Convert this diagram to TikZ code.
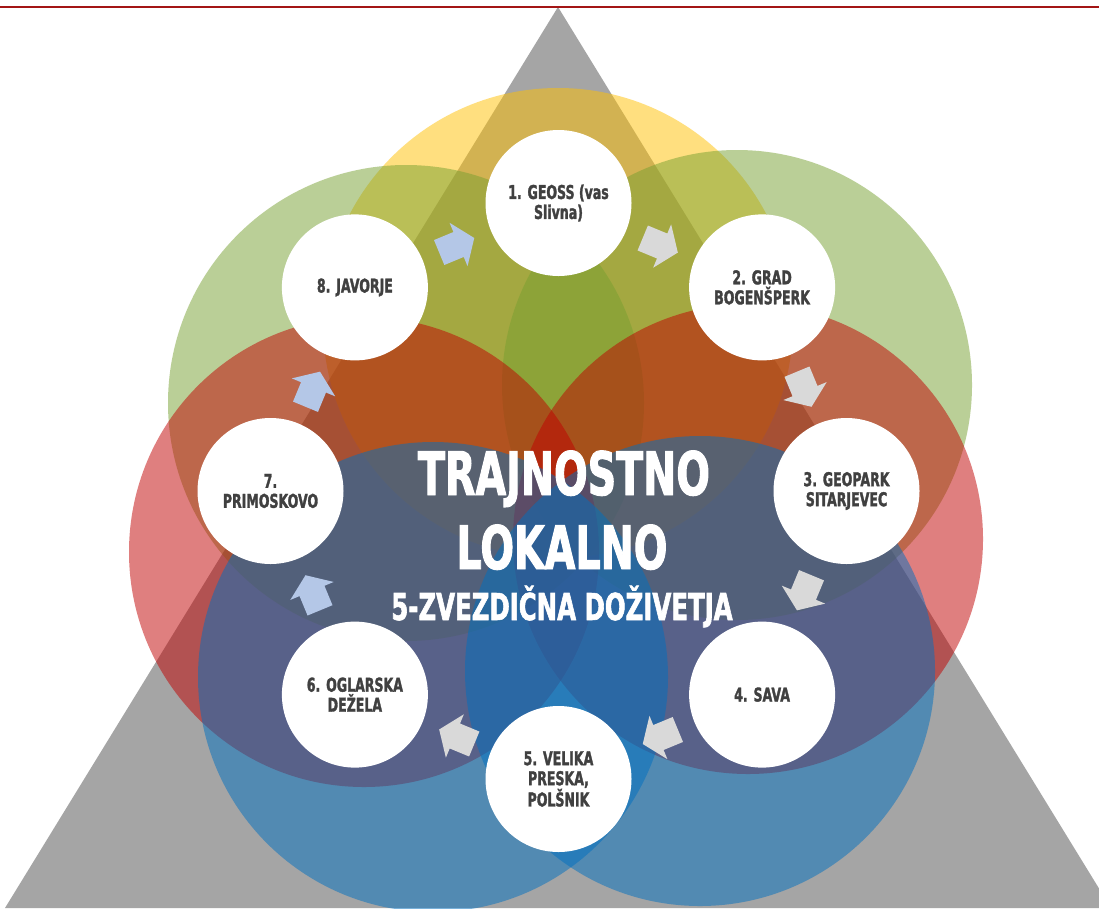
\documentclass[tikz,border=0pt]{standalone}
\usepackage{fontspec}
\usetikzlibrary{calc}
\newfontfamily\condfont{DejaVu Sans}[FakeStretch=0.66, BoldFeatures={FakeBold=1.6}]
\definecolor{cyel}{HTML}{FFC000}
\definecolor{cgrn}{HTML}{77A031}
\definecolor{cred}{HTML}{C00000}
\definecolor{cblu}{HTML}{0070C0}
\definecolor{trigray}{HTML}{A5A5A5}
\definecolor{txtg}{HTML}{404040}
\definecolor{arrg}{HTML}{D9D9D9}
\definecolor{arrb}{HTML}{B4C7E7}
\definecolor{topred}{HTML}{A31515}
\begin{document}
\begin{tikzpicture}[x=1pt,y=-1pt,
  venn/.style={fill opacity=0.5},
  spot/.style={circle, fill=white, minimum size=146pt, inner sep=0pt, text=txtg, align=center,
    font=\condfont\bfseries\fontsize{19}{20}\selectfont},
  bigtext/.style={text=white, anchor=base, inner sep=0pt, font=\condfont\bfseries\fontsize{60}{60}\selectfont},
  subtext/.style={text=white, anchor=base, inner sep=0pt, font=\condfont\bfseries\fontsize{37}{37}\selectfont},
  cycarrow/.style={draw=none}]
\clip (0,0) rectangle (1099,908);
\fill[white] (0,0) rectangle (1099,908);
% background triangle
\fill[trigray] (558,7) -- (5,908) -- (1111,908) -- cycle;
\draw[topred, line width=1.6pt] (0,7) -- (1099,7);
% overlapping circles
\fill[venn, cyel] (558,323) circle[radius=235];
\fill[venn, cgrn] (406,403) circle[radius=238];
\fill[venn, cgrn] (737,385) circle[radius=235];
\fill[venn, cred] (364,552) circle[radius=235];
\fill[venn, cred] (748,539) circle[radius=235];
\fill[venn, cblu] (433,677) circle[radius=235];
\fill[venn, cblu] (700,671) circle[radius=235];
% stations
\coordinate (C) at (558.5,491);
\node[spot] (n1) at ($(C)+(0,-288)$) {1. GEOSS (vas\\Slivna)};
\node[spot] (n2) at ($(C)+(203.6,-203.6)$) {2. GRAD\\BOGENŠPERK};
\node[spot] (n3) at ($(C)+(288,0)$) {3. GEOPARK\\SITARJEVEC};
\node[spot] (n4) at ($(C)+(203.6,203.6)$) {4. SAVA};
\node[spot] (n5) at ($(C)+(0,288)$) {5. VELIKA\\PRESKA,\\POLŠNIK};
\node[spot] (n6) at ($(C)+(-203.6,203.6)$) {6. OGLARSKA\\DEŽELA};
\node[spot] (n7) at ($(C)+(-288,0)$) {7.\\PRIMOSKOVO};
\node[spot] (n8) at ($(C)+(-203.6,-203.6)$) {8. JAVORJE};
% cycle arrows
\foreach \t/\c in {67.5/arrg, 22.5/arrg, -22.5/arrg, -67.5/arrg, -112.5/arrg, -157.5/arrb, 157.5/arrb, 112.5/arrb} {
  \fill[cycarrow, \c, shift={($(C)+({266*cos(\t)},{-266*sin(\t)})$)}, rotate=\t-90]
    (-19,-13.5) -- (2,-13.5) -- (2,-23.5) -- (19,0) -- (2,23.5) -- (2,13.5) -- (-19,13.5) -- cycle;
}
% title
\node[bigtext] (t1) at (564,495) {TRAJNOSTNO};
\node[bigtext] (t2) at (562,569) {LOKALNO};
\node[subtext] (t3) at (562,620) {5-ZVEZDIČNA DOŽIVETJA};
\end{tikzpicture}
\end{document}
